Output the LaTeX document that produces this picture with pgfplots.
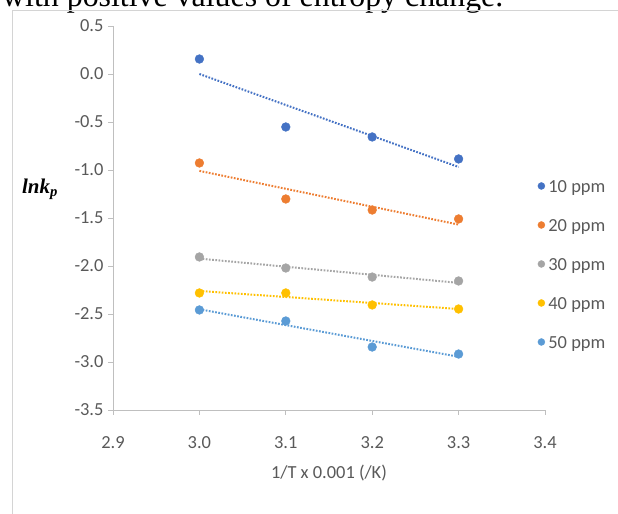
\documentclass[border=0pt]{standalone}
\usepackage{fontspec}
\setmainfont{Carlito}
\newfontfamily\capfont{Liberation Serif}
\usepackage{pgfplots}
\usepackage{pgfplotstable}
\pgfplotsset{compat=1.18}

\definecolor{s10}{HTML}{4472C4}
\definecolor{s20}{HTML}{ED7D31}
\definecolor{s30}{HTML}{A5A5A5}
\definecolor{s40}{HTML}{FFC000}
\definecolor{s50}{HTML}{5B9BD5}
\definecolor{axisgray}{HTML}{BFBFBF}
\definecolor{labelgray}{HTML}{595959}
\definecolor{framegray}{HTML}{D4D4D4}

% ln k_p against 1/T (x 0.001 /K) for five concentrations
\pgfplotstableread{
x    y10     y20     y30     y40     y50
3.0  0.156  -0.927  -1.906  -2.281  -2.458
3.1 -0.552  -1.302  -2.021  -2.281  -2.573
3.2 -0.656  -1.417  -2.115  -2.406  -2.844
3.3 -0.885  -1.510  -2.156  -2.448  -2.917
}\kdata

\pgfplotsset{
  pt/.style={only marks, mark=*, mark size=4.4bp, color=#1},
  fit/.style={no marks, forget plot, color=#1, line width=2bp,
              dash pattern=on 1.7bp off 1.5bp},
}

\begin{document}
\begin{tikzpicture}[x=1bp,y=1bp]
\useasboundingbox (0,0) rectangle (618,514);
\node[anchor=base west, inner sep=0, font=\capfont\fontsize{32}{38}\selectfont]
  at (2,507) {with positive values of entropy change.};
\draw[framegray, line width=1bp] (12,0) -- (12,503) -- (618,503);

\begin{axis}[
  at={(113bp,104bp)}, anchor=south west,
  scale only axis, width=432bp, height=384bp,
  xmin=2.9, xmax=3.4, ymin=-3.5, ymax=0.5,
  xtick={2.9,3.0,3.1,3.2,3.3,3.4},
  ytick={-3.5,-3.0,-2.5,-2.0,-1.5,-1.0,-0.5,0.0,0.5},
  axis x line=bottom, axis y line=left,
  axis line style={axisgray, line width=0.8bp, -},
  tick align=outside, major tick length=5bp,
  tick style={axisgray, line width=0.8bp},
  /pgf/number format/.cd, fixed, fixed zerofill, precision=1, assume math mode=true,
  /pgfplots/.cd,
  ticklabel style={font=\fontsize{18.5}{22}\selectfont, text=labelgray},
  xticklabel style={yshift=-18bp},
  yticklabel style={xshift=-1bp},
  xlabel={1/T x 0.001 (/K)},
  every axis x label/.style={at={(axis description cs:0.5,0)}, anchor=center,
     yshift=-63bp, font=\fontsize{18.5}{22}\selectfont, text=labelgray},
  legend style={at={(axis description cs:0.9826,0.3724)}, anchor=west,
     draw=none, fill=none, inner sep=0pt, row sep=23bp,
     font=\fontsize{18.5}{22}\selectfont, text=labelgray,
     nodes={inner sep=0pt, text height=12bp, text depth=4bp}},
  legend cell align=left,
  legend image code/.code={\path[draw=none, fill=none] (0bp,3bp) -- (10.5bp,3bp);
                           \fill (3.5bp,3bp) circle (3.5bp);},
  clip=false,
]
\addplot[fit=s10] table[x=x, y={create col/linear regression={y=y10}}] {\kdata};
\addplot[fit=s20] table[x=x, y={create col/linear regression={y=y20}}] {\kdata};
\addplot[fit=s30] table[x=x, y={create col/linear regression={y=y30}}] {\kdata};
\addplot[fit=s40] table[x=x, y={create col/linear regression={y=y40}}] {\kdata};
\addplot[fit=s50] table[x=x, y={create col/linear regression={y=y50}}] {\kdata};

\addplot[pt=s10] table[x=x, y=y10] {\kdata};
\addplot[pt=s20] table[x=x, y=y20] {\kdata};
\addplot[pt=s30] table[x=x, y=y30] {\kdata};
\addplot[pt=s40] table[x=x, y=y40] {\kdata};
\addplot[pt=s50] table[x=x, y=y50] {\kdata};
\legend{10 ppm, 20 ppm, 30 ppm, 40 ppm, 50 ppm}
\end{axis}

\node[font=\capfont\bfseries\itshape\fontsize{21}{25}\selectfont, inner sep=0]
  at (40,325) {lnk\textsubscript{p}};
\end{tikzpicture}
\end{document}
